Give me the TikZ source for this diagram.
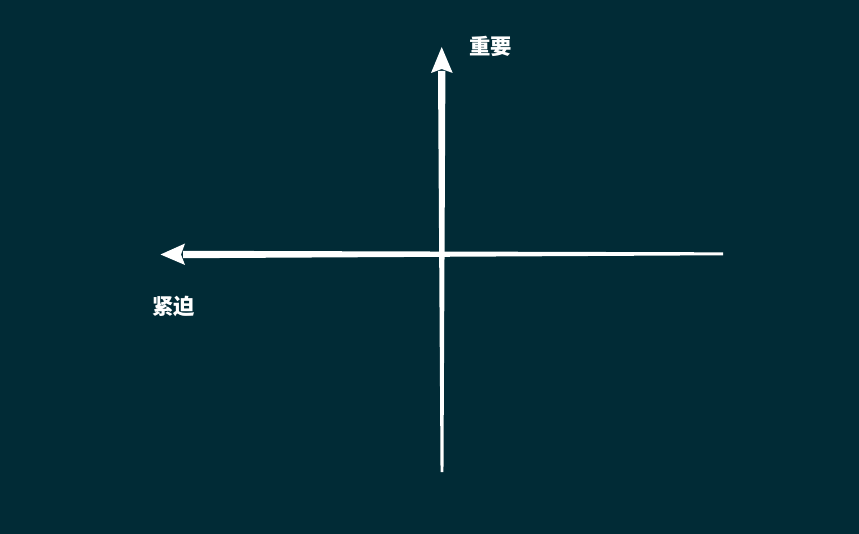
\documentclass[tikz,border=0pt]{standalone}
\usepackage{fontspec}
\newfontfamily\cjk{Noto Sans CJK SC}
\usepackage{tikz}
\usetikzlibrary{positioning}
\definecolor{bgteal}{RGB}{1,43,54}

\begin{document}
\begin{tikzpicture}[x=0.75pt,y=-0.75pt]
   \fill[bgteal] (0,0) rectangle (859,534);
   \useasboundingbox (0,0) rectangle (859,534);
   % axes ends
   \coordinate (top) at (441.7,47);
   \coordinate (bottom) at (442,472);
   \coordinate (left) at (160.5,254.5);
   \coordinate (right) at (723,253.8);
   % horizontal axis (urgent), tapered towards the right
   \fill[white] (183,250.8) -- (183,258.2) -- ([yshift=-1.1]right) -- ([yshift=1.1]right) -- cycle;
   \fill[white] (left) -- ++(24.5,-11) -- ++(-4,11) -- ++(4,10.5) -- cycle;
   % vertical axis (important), tapered towards the bottom
   \fill[white] (438,71) -- (445.4,71) -- ([xshift=1.1]bottom) -- ([xshift=-1.1]bottom) -- cycle;
   \fill[white] (top) -- ++(11,26) -- ++(-11,-4) -- ++(-10.7,4) -- cycle;
   \node[text=white,font=\cjk\bfseries\fontsize{16}{18}\selectfont,right=17pt of top,yshift=0.5pt] (imp) {重要};
   \node[text=white,font=\cjk\bfseries\fontsize{16}{18}\selectfont] (urg) at (173.5,306) {紧迫};
\end{tikzpicture}
\end{document}
